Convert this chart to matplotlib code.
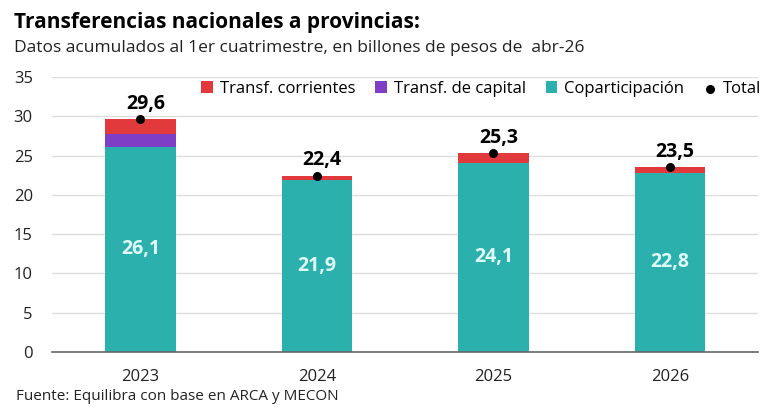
import numpy as np
import matplotlib
matplotlib.use("Agg")
import matplotlib.pyplot as plt

plt.rcParams['font.family'] = ['Open Sans', 'DejaVu Sans']

years = ["2023", "2024", "2025", "2026"]
copart = [26.1, 21.9, 24.1, 22.8]
capital = [1.6, 0.0, 0.0, 0.0]
corrientes = [1.9, 0.5, 1.2, 0.7]
total = [29.6, 22.4, 25.3, 23.5]

c_corr = "#E23A3C"
c_cap = "#7E3FC6"
c_cop = "#2BB0AE"

fig = plt.figure(figsize=(7.8, 4.07), dpi=100)
ax = fig.add_axes([0.067, 0.135, 0.905, 0.676])

x = np.arange(len(years))
w = 0.40
bottom2 = np.array(copart) + np.array(capital)
b_cop = ax.bar(x, copart, w, color=c_cop, zorder=2)
b_cap = ax.bar(x, capital, w, bottom=copart, color=c_cap, zorder=2)
b_corr = ax.bar(x, corrientes, w, bottom=bottom2, color=c_corr, zorder=2)
pts = ax.scatter(x, total, color="black", s=30, zorder=3)

def fmt(v):
    return f"{v:.1f}".replace(".", ",")

for i in range(len(years)):
    ax.text(x[i], copart[i] / 2, fmt(copart[i]), ha="center", va="center",
            color="#DFFCFB", fontsize=14, fontweight="bold", zorder=4)
    ax.text(x[i] + 0.03, total[i] + 0.7, fmt(total[i]), ha="center", va="bottom",
            color="black", fontsize=14, fontweight="bold", zorder=4)

ax.set_xlim(-0.5, 3.5)
ax.set_ylim(0, 35)
ax.set_yticks(range(0, 36, 5))
ax.set_xticks(x)
ax.set_xticklabels(years)
ax.tick_params(axis="both", length=0, labelsize=12, colors="#222222")
ax.tick_params(axis="x", pad=12)
ax.tick_params(axis="y", pad=14)
ax.grid(axis="y", color="#DDDDDD", linewidth=1, zorder=0)
for s in ["top", "right", "left"]:
    ax.spines[s].set_visible(False)
ax.spines["bottom"].set_color("#666666")
ax.spines["bottom"].set_linewidth(1.2)

ax.legend([b_corr, b_cap, b_cop, pts],
          ["Transf. corrientes", "Transf. de capital", "Coparticipación", "Total"],
          ncol=4, frameon=False, loc="upper right", bbox_to_anchor=(1.025, 1.04),
          fontsize=12, handlelength=0.7, handleheight=0.7, handletextpad=0.4,
          columnspacing=1.2)

fig.text(0.018, 0.945, "Transferencias nacionales a provincias:", fontsize=15,
         fontweight="bold", ha="left", va="center")
fig.text(0.018, 0.882, "Datos acumulados al 1er cuatrimestre, en billones de pesos de  abr-26",
         fontsize=12.5, ha="left", va="center", color="#222222")
fig.text(0.02, 0.025, "Fuente: Equilibra con base en ARCA y MECON", fontsize=11,
         ha="left", va="center", color="#222222")

fig.savefig("out.png", dpi=100)
